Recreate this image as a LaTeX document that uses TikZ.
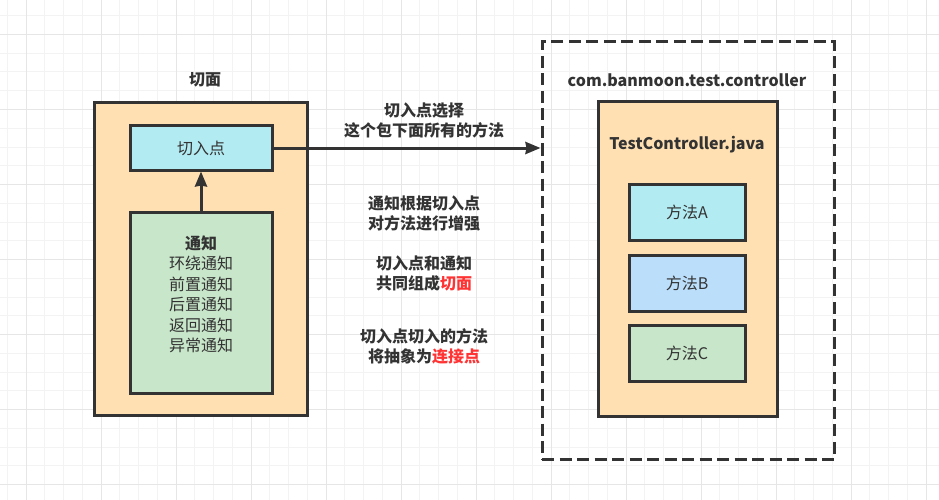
\documentclass[tikz,border=0pt]{standalone}
\usepackage{fontspec}
\setmainfont{Noto Sans CJK SC}
\usetikzlibrary{arrows.meta}
\definecolor{ink}{HTML}{333333}
\definecolor{hl}{HTML}{FF3333}
\definecolor{orangefill}{HTML}{FFE0B2}
\definecolor{cyanfill}{HTML}{B2EBF2}
\definecolor{bluefill}{HTML}{BBDEFB}
\definecolor{greenfill}{HTML}{C8E6C9}
\definecolor{gridminor}{HTML}{F3F3F3}
\definecolor{gridmajor}{HTML}{E6E6E6}
\tikzset{
  txt/.style={font=\fontsize{16}{20.5}\selectfont, text=ink, align=center, inner sep=0pt},
  btxt/.style={txt, font=\fontsize{16}{20}\selectfont\bfseries},
  box/.style={draw=ink, line width=3pt, inner sep=0pt, txt},
  pkgbox/.style={draw=ink, line width=3pt, dash pattern=on 12pt off 5.5pt, inner sep=0pt},
  conn/.style={draw=ink, line width=3pt, -{Stealth[length=15pt,width=12pt,inset=1pt]}},
}
\begin{document}
\begin{tikzpicture}[x=1pt,y=-1pt]
\useasboundingbox (0,0) rectangle (939,500);
\fill[white] (0,0) rectangle (939,500);
% grid
\foreach \i in {0,...,50} \draw[gridminor, line width=1pt] ({7.25+18.75*\i},0) -- ++(0,500);
\foreach \i in {0,...,27} \draw[gridminor, line width=1pt] (0,{15.75+18.75*\i}) -- ++(939,0);
\foreach \i in {0,...,12} \draw[gridmajor, line width=1pt] ({26+75*\i},0) -- ++(0,500);
\foreach \i in {0,...,6} \draw[gridmajor, line width=1pt] (0,{34.5+75*\i}) -- ++(939,0);

% left: aspect
\node[box, fill=orangefill, minimum width=213pt, minimum height=313pt] (aspect) at (200.5,259) {};
\node[btxt] (aspecttitle) at (205,80) {切面};
\node[box, fill=cyanfill, minimum width=142pt, minimum height=44pt] (pointcut) at (201,148) {切入点};
\node[box, fill=greenfill, minimum width=142pt, minimum height=181pt] (advice) at (201,302.5) {};
\node[txt] (advicetext) at (201,294.5) {\textbf{通知}\\环绕通知\\前置通知\\后置通知\\返回通知\\异常通知};
\draw[conn] (advice.north) -- (pointcut.south);

% right: package
\node[pkgbox, minimum width=292pt, minimum height=417pt] (pkg) at (688,250.5) {};
\node[btxt] (pkgtitle) at (687,80) {com.banmoon.test.controller};
\node[box, fill=orangefill, minimum width=179pt, minimum height=314pt] (cls) at (687.5,259) {};
\node[btxt] (clstitle) at (687,145) {TestController.java};
\node[box, fill=cyanfill, minimum width=116pt, minimum height=56pt] (ma) at (687,212) {方法A};
\node[box, fill=bluefill, minimum width=116pt, minimum height=56pt] (mb) at (687,283) {方法B};
\node[box, fill=greenfill, minimum width=116pt, minimum height=56pt] (mc) at (687,353) {方法C};

\draw[conn] (pointcut.east) -- (pointcut.east -| pkg.west);

% labels
\node[btxt] (lab1) at (424,120.5) {切入点选择\\这个包下面所有的方法};
\node[btxt] (lab2) at (424,213) {通知根据切入点\\对方法进行增强};
\node[btxt] (lab3) at (424,273.5) {切入点和通知\\共同组成\textcolor{hl}{切面}};
\node[btxt] (lab4) at (424,346.5) {切入点切入的方法\\将抽象为\textcolor{hl}{连接点}};
\end{tikzpicture}
\end{document}
